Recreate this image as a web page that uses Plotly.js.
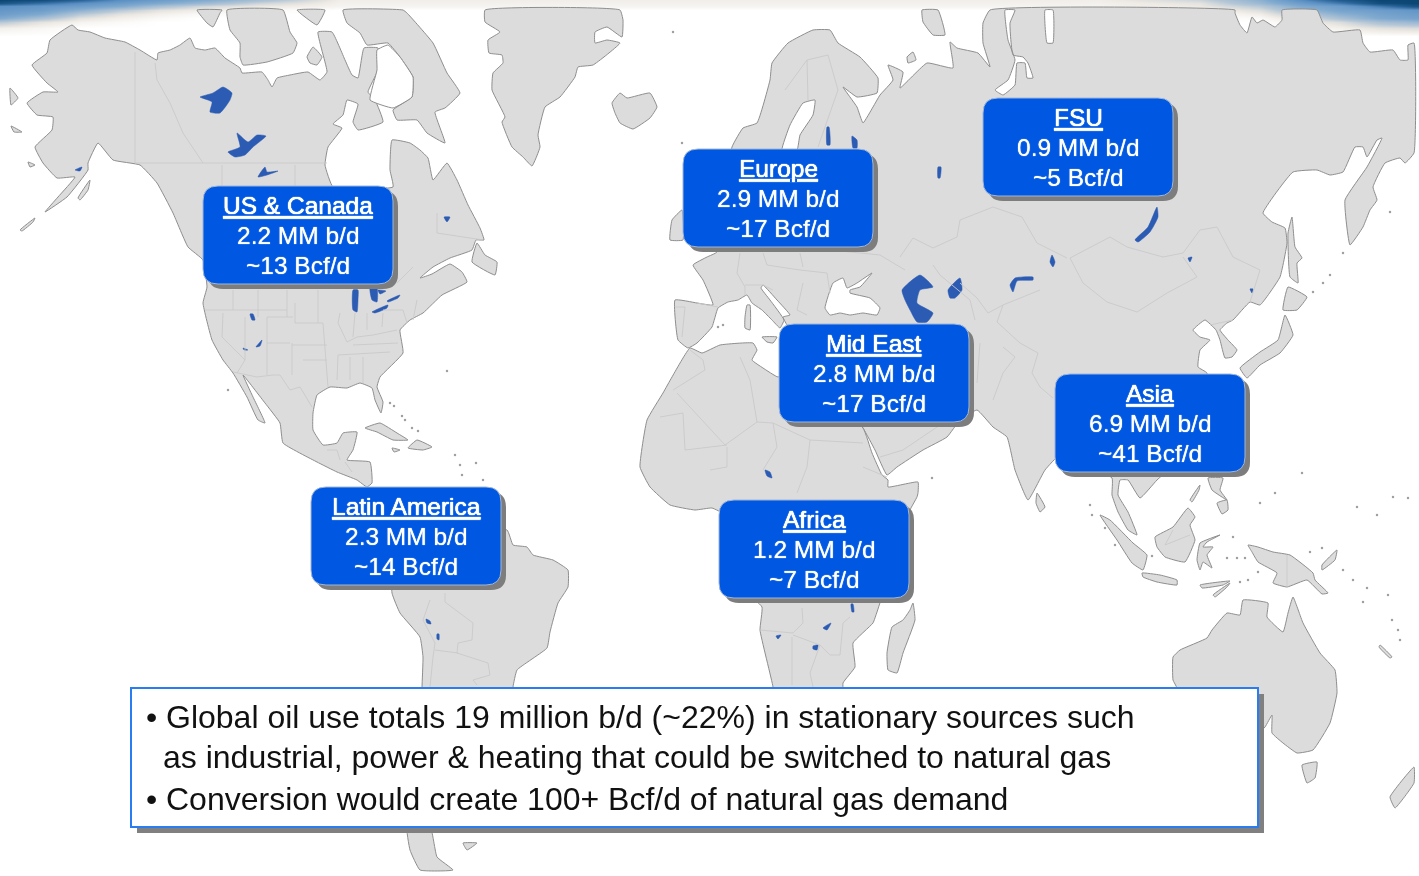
<!DOCTYPE html>
<html><head><meta charset="utf-8">
<script src="https://cdn.plot.ly/plotly-3.0.1.min.js"></script>
<style>html,body{margin:0;padding:0;background:#fff}#chart{width:1419px;height:876px;filter:blur(0.45px)}</style>
</head><body><div id="chart"></div>
<script>
// ---------- values ----------
const regionNames = ["US & Canada","Europe","FSU","Mid East","Asia","Africa","Latin America"];
const oilUseMMbd  = ["2.2","2.9","0.9","2.8","6.9","1.2","2.3"];
const gasBcfd     = ["13","17","5","17","41","7","14"];
const noteLines = ["Global oil use totals 19 million b/d (~22%) in stationary sources such",
                   "as industrial, power & heating that could be switched to natural gas",
                   "Conversion would create 100+ Bcf/d of natural gas demand"];
// ---------- map outlines (traced, in picture units) ----------
const northAmerica=[[72,25],[78,30],[90,32],[105,38],[125,42],[140,50],[157,60],[158,53],[170,50],[180,45],[190,38],[195,48],[205,50],[215,48],[225,58],[240,68],[242,73],[262,72],[268,80],[272,87],[277,78],[290,75],[308,72],[320,80],[327,72],[318,32],[332,32],[345,60],[352,75],[358,78],[364,48],[378,48],[378,70],[368,92],[375,100],[383,122],[358,130],[353,122],[358,104],[347,100],[343,115],[333,124],[342,128],[328,147],[325,165],[333,187],[393,187],[390,170],[392,140],[410,143],[420,150],[428,158],[433,180],[447,163],[457,180],[468,205],[480,228],[484,240],[476,240],[472,250],[450,258],[433,267],[420,278],[432,274],[450,264],[462,272],[467,282],[442,295],[423,313],[410,320],[400,330],[403,353],[380,377],[377,387],[383,402],[381,413],[375,400],[372,388],[360,383],[347,388],[330,387],[317,395],[313,413],[313,430],[323,445],[337,443],[343,433],[357,432],[353,450],[347,460],[370,462],[372,483],[367,487],[357,480],[337,472],[317,462],[283,443],[280,423],[265,403],[243,375],[253,397],[265,423],[258,420],[247,397],[233,373],[223,360],[212,340],[203,303],[207,287],[203,260],[188,247],[173,213],[157,183],[140,165],[113,160],[98,143],[88,163],[88,170],[67,197],[45,212],[58,197],[75,177],[57,178],[43,163],[35,147],[52,130],[53,117],[37,115],[27,103],[43,92],[58,92],[47,83],[32,65],[47,53],[50,40]];
const baffin=[[343,10],[347,23],[360,33],[367,45],[388,43],[400,57],[413,77],[412,97],[393,110],[397,120],[417,120],[427,133],[445,143],[435,112],[445,108],[460,93],[447,73],[433,43],[407,13],[403,10]];
const banksIsland=[[197,10],[207,23],[213,27],[220,13],[222,10]];
const victoriaIsland=[[227,10],[230,30],[240,43],[240,57],[243,65],[267,62],[293,53],[297,43],[290,32],[283,10]];
const somersetIsland=[[297,10],[317,25],[325,10]];
const princeWales=[[307,57],[313,47],[322,57],[317,65],[310,63]];
const newfoundland=[[477,243],[472,262],[495,275],[497,262],[485,255]];
const greenland=[[485,10],[485,22],[500,32],[488,40],[489,53],[502,55],[503,63],[493,73],[492,90],[505,117],[502,122],[512,147],[523,157],[532,166],[540,147],[538,135],[545,107],[560,97],[575,77],[578,67],[593,65],[620,43],[607,40],[595,43],[595,32],[607,27],[622,37],[623,20],[620,10]];
const iceland=[[612,103],[620,93],[627,98],[650,93],[657,107],[650,118],[633,129],[620,123],[615,113]];
const eurasia=[[717,252],[732,147],[743,128],[757,123],[770,80],[772,63],[788,43],[813,30],[830,30],[838,43],[860,57],[878,78],[877,93],[857,97],[843,87],[857,107],[863,123],[873,107],[880,95],[893,80],[888,65],[903,72],[900,88],[927,63],[953,68],[950,42],[957,48],[978,53],[990,67],[983,43],[983,23],[990,10],[1235,10],[1235,13],[1240,25],[1247,33],[1252,17],[1257,23],[1263,20],[1275,27],[1282,20],[1282,10],[1317,10],[1323,23],[1333,32],[1360,30],[1363,43],[1370,52],[1393,50],[1400,60],[1408,60],[1408,45],[1414,43],[1414,153],[1405,163],[1400,158],[1385,163],[1373,187],[1377,200],[1370,210],[1363,227],[1350,245],[1345,200],[1367,167],[1382,138],[1377,140],[1367,157],[1363,147],[1355,147],[1343,172],[1330,175],[1317,170],[1293,172],[1263,213],[1272,222],[1285,228],[1287,243],[1280,277],[1260,305],[1250,302],[1233,320],[1227,323],[1220,330],[1228,340],[1237,350],[1232,357],[1225,358],[1220,340],[1216,330],[1205,320],[1193,330],[1200,337],[1210,340],[1200,350],[1198,367],[1207,373],[1200,440],[1157,480],[1140,498],[1128,480],[1120,480],[1118,495],[1128,512],[1137,535],[1128,530],[1118,512],[1112,495],[1112,478],[1060,455],[1045,470],[1028,500],[1015,470],[1007,437],[993,427],[977,410],[960,420],[947,437],[923,450],[897,467],[887,475],[875,450],[863,428],[787,325],[783,317],[790,315],[777,300],[763,285],[761,288],[770,300],[784,320],[780,328],[772,320],[762,310],[752,303],[747,295],[738,300],[728,302],[718,308],[712,327],[697,343],[688,348],[678,340],[675,300],[697,303],[713,305],[703,280],[693,265],[707,257]];
const africa=[[690,348],[702,353],[720,345],[753,343],[757,350],[752,360],[763,368],[778,377],[790,370],[863,428],[872,453],[882,475],[888,480],[888,487],[918,482],[918,493],[917,497],[910,510],[877,612],[873,623],[853,643],[855,667],[843,683],[843,700],[773,700],[773,687],[760,630],[762,607],[745,590],[725,515],[712,508],[695,510],[670,505],[650,487],[640,467],[647,420],[663,393],[672,377]];
const madagascar=[[913,603],[915,620],[903,653],[897,673],[888,670],[887,653],[892,627],[903,620],[910,610]];
const southAmerica=[[392,593],[395,530],[507,530],[513,545],[527,547],[533,555],[553,560],[568,570],[568,587],[558,603],[550,632],[547,648],[517,670],[513,687],[513,700],[422,700],[422,687],[423,657],[420,637],[400,613]];
const tierraFuego=[[407,826],[410,850],[420,870],[453,870],[437,857],[430,826]];
const falklands=[[463,843],[477,843],[467,850]];
const australia=[[1173,657],[1173,680],[1177,688],[1180,720],[1250,740],[1265,727],[1272,715],[1272,733],[1283,743],[1297,753],[1313,750],[1330,723],[1337,693],[1335,670],[1320,653],[1303,623],[1293,597],[1288,613],[1283,632],[1267,617],[1268,603],[1243,600],[1240,615],[1227,613],[1212,630],[1207,638],[1180,650]];
const tasmania=[[1302,765],[1307,783],[1315,778],[1317,762]];
const newZealand=[[1390,797],[1395,808],[1414,783],[1414,767]];
const newGuinea=[[1273,552],[1290,555],[1313,573],[1315,580],[1328,593],[1322,594],[1307,580],[1287,587],[1273,583],[1277,573],[1258,562],[1252,552],[1248,545],[1258,547]];
const newBritain=[[1322,570],[1335,560],[1337,550],[1322,565]];
const sumatra=[[1100,515],[1110,520],[1133,543],[1147,555],[1143,570],[1132,563],[1117,540]];
const java=[[1142,573],[1160,575],[1177,580],[1177,585],[1157,582],[1143,577]];
const sunda=[[1200,585],[1230,581],[1223,585],[1202,588]];
const timor=[[1213,595],[1230,583],[1227,587],[1215,597]];
const borneo=[[1155,537],[1173,527],[1188,508],[1195,517],[1190,525],[1195,540],[1185,562],[1165,557],[1157,547]];
const sulawesi=[[1197,560],[1200,543],[1220,535],[1207,542],[1203,547],[1213,547],[1207,555],[1212,568],[1203,562],[1200,570]];
const luzon=[[1208,478],[1223,478],[1220,490],[1227,500],[1212,490]];
const mindanao=[[1217,503],[1227,500],[1228,510],[1222,514]];
const palawan=[[1190,500],[1200,485],[1199,490],[1192,502]];
const sriLanka=[[1037,493],[1045,507],[1040,512],[1036,503]];
const honshu=[[1285,315],[1293,335],[1280,353],[1260,365],[1247,378],[1240,368],[1260,352],[1278,340]];
const hokkaido=[[1288,287],[1307,297],[1297,310],[1283,310]];
const sakhalin=[[1292,217],[1295,247],[1302,258],[1297,263],[1298,283],[1290,277],[1288,233]];
const cuba=[[365,428],[380,423],[397,433],[408,440],[393,440],[377,432]];
const hispaniola=[[408,448],[417,440],[432,447],[423,450]];
const jamaica=[[392,448],[400,450],[394,452]];
const newCaledonia=[[1380,645],[1392,657],[1390,658],[1379,647]];
const britain=[[670,240],[672,220],[682,210],[683,240]];
const corsica=[[747,305],[750,305],[750,330],[745,328],[745,317]];
const sicily=[[762,337],[777,337],[773,343],[767,342]];
const novayaZemlya=[[922,10],[938,10],[945,35],[933,35],[923,22]];
const kolguev=[[907,57],[913,52],[916,60],[908,63]];
const alaskaIslandA=[[10,88],[18,98],[11,105]];
const alaskaIslandB=[[11,126],[22,132],[14,132]];
const kodiak=[[28,162],[35,165],[30,167]];
const aleutian=[[20,230],[35,218],[33,222],[22,231]];
const alexander=[[78,198],[90,180],[88,190],[80,200]];
const landPieces=[northAmerica,baffin,banksIsland,victoriaIsland,somersetIsland,princeWales,newfoundland,greenland,iceland,eurasia,africa,madagascar,southAmerica,tierraFuego,falklands,australia,tasmania,newZealand,newGuinea,newBritain,sumatra,java,sunda,timor,borneo,sulawesi,luzon,mindanao,palawan,sriLanka,honshu,hokkaido,sakhalin,cuba,hispaniola,jamaica,newCaledonia,britain,corsica,sicily,novayaZemlya,kolguev,alaskaIslandA,alaskaIslandB,kodiak,aleutian,alexander];
// tiny islands
const specksX=[390,394,402,405,412,418,455,460,462,447,228,1152,1393,1408,1302,1260,1275,1357,1377,1310,1322,1388,1363,1398,1400,1240,1248,1258,1227,1237,1245,1233,1343,1353,1367,1392,1343,1330,1323,1313,1390,718,723,932,682,673,1090,1092,1105,1115,476,483];
const specksY=[403,406,416,420,428,431,455,465,475,371,390,556,497,498,473,503,493,507,515,552,548,595,602,630,640,582,580,572,558,558,558,537,570,580,588,620,253,275,283,292,212,327,325,478,143,32,505,515,528,545,463,480];
// inland water shown white
const foxeBasin=[[377,50],[388,45],[400,57],[413,77],[412,97],[393,108],[370,100],[377,70]];
const gulfBothnia=[[782,150],[790,125],[803,103],[815,100],[813,115],[800,135],[797,150]];
const blackSea=[[825,308],[833,283],[843,278],[847,288],[857,283],[872,273],[860,287],[850,290],[850,293],[870,298],[880,308],[877,315],[863,313],[850,315],[840,313],[830,315]];
const obGulf=[[1005,10],[1008,40],[1015,60],[1008,80],[995,90],[1003,95],[1015,85],[1017,63],[1025,63],[1027,78],[1033,78],[1028,63],[1023,57],[1013,55],[1010,23],[1015,10]];
const yeniseiBay=[[1045,10],[1053,10],[1053,43],[1047,43]];
const waterPieces=[foxeBasin,gulfBothnia,blackSea,obGulf,yeniseiBay];
// lakes
const greatBear=[[200,97],[213,93],[223,87],[232,93],[230,100],[220,113],[210,112],[212,102],[202,98]];
const greatSlave=[[228,152],[240,147],[237,133],[248,142],[257,135],[266,136],[253,147],[245,155],[235,157]];
const athabasca=[[258,177],[265,167],[267,172],[278,171],[267,175]];
const michigan=[[353,290],[358,290],[358,300],[357,312],[353,310]];
const huron=[[370,288],[377,288],[377,302],[372,300]];
const georgian=[[378,290],[386,291],[380,294]];
const erie=[[372,312],[388,305],[387,308],[375,313]];
const ontario=[[387,301],[400,295],[398,298],[388,302]];
const caspian=[[902,290],[920,275],[933,287],[920,290],[917,303],[933,313],[927,322],[917,322],[910,310],[905,300]];
const aral=[[948,290],[960,278],[962,290],[955,298],[950,298]];
const balkhash=[[1010,285],[1015,278],[1033,277],[1033,280],[1017,281],[1013,292]];
const baikal=[[1157,207],[1158,217],[1150,232],[1138,242],[1135,240],[1148,227]];
const ladoga=[[827,127],[829,127],[830,145],[827,145]];
const onega=[[852,136],[857,140],[857,148],[853,148]];
const rybinsk=[[938,167],[941,167],[940,178],[938,178]];
const chadLake=[[765,470],[770,472],[772,478],[767,476]];
const titicaca=[[426,619],[430,621],[431,624],[427,623]];
const poopo=[[437,634],[439,634],[439,640],[437,639]];
const okavango=[[776,636],[781,635],[778,639]];
const bangweulu=[[813,646],[818,645],[817,650],[813,649]];
const malawi=[[851,604],[853,604],[854,612],[852,612]];
const mweru=[[823,628],[831,623],[827,630]];
const greatSalt=[[250,314],[253,314],[255,320],[252,320]];
const powell=[[256,347],[262,340],[260,346]];
const mead=[[243,348],[248,350],[244,350]];
const alaskaLake=[[75,170],[82,167],[80,171]];
const qinghai=[[1188,258],[1192,257],[1190,262]];
const hanka=[[1250,289],[1253,289],[1252,293]];
const issyk=[[1052,255],[1055,262],[1053,267],[1050,262]];
const mistassini=[[444,217],[450,217],[447,222]];
const lakePieces=[greatBear,greatSlave,athabasca,michigan,huron,georgian,erie,ontario,caspian,aral,balkhash,baikal,ladoga,onega,rybinsk,chadLake,titicaca,poopo,okavango,bangweulu,malawi,mweru,greatSalt,powell,mead,alaskaLake,qinghai,hanka,issyk,mistassini];
// borders
const borderLines=[
[[135,52],[135,163]],[[155,63],[157,80],[170,103],[183,133],[203,163]],[[135,163],[327,163]],[[222,165],[222,187]],[[295,165],[295,187]],
[[437,213],[437,233],[483,240]],[[413,267],[397,283]],
[[233,372],[257,377],[273,375],[280,375],[290,390],[300,387],[312,407]],[[205,310],[287,310]],[[267,317],[293,317]],[[267,343],[290,343]],[[295,323],[323,323]],[[292,345],[327,345]],[[303,360],[327,360]],
[[233,290],[233,310]],[[258,290],[258,317]],[[287,290],[287,317]],[[267,317],[267,375]],[[295,303],[295,323]],[[292,343],[292,375]],[[318,290],[318,323]],[[323,323],[325,347],[327,367],[328,387]],[[340,313],[338,323],[347,342]],[[338,355],[337,380]],[[350,357],[350,380]],[[363,357],[363,383]],[[347,342],[357,337],[373,335],[397,330]],[[353,345],[398,343]],[[338,355],[390,352]],[[383,310],[403,310],[407,323]],[[355,313],[353,337]],[[367,313],[367,330]],[[383,313],[382,327]],[[223,313],[222,337],[245,360]],[[245,317],[245,360],[237,373]],[[417,300],[413,320]],[[327,450],[337,450],[340,460]],[[345,462],[352,472]],
[[697,303],[718,307]],[[675,307],[685,307],[682,337]],[[740,253],[737,273],[745,287],[745,295]],[[745,285],[763,285],[773,290]],[[763,253],[767,265],[780,267],[800,270]],[[800,253],[803,267]],[[800,270],[827,273],[830,293]],[[803,283],[797,310],[807,315]],[[785,90],[807,60],[828,55]],[[807,60],[808,100]],[[828,55],[838,90],[818,147]],[[830,250],[880,255],[905,270]],
[[690,350],[703,360],[705,370],[673,390]],[[677,393],[725,445],[757,422],[750,380],[740,357]],[[660,417],[683,413],[685,450],[727,445]],[[727,447],[727,467],[710,470]],[[757,422],[773,423],[777,447],[763,470]],[[773,423],[810,440],[807,467],[797,493]],[[810,440],[863,443]],[[863,467],[887,477]],[[760,630],[793,633],[803,623],[802,608]],[[792,637],[792,685]],[[793,635],[820,645],[830,655],[840,655],[843,623],[850,617]],[[820,645],[810,673],[813,687]],[[880,457],[903,450],[940,425]],
[[960,220],[993,207],[1022,217],[1037,243],[1067,258]],[[960,220],[957,237],[933,248],[913,238],[900,257]],[[1070,258],[1110,237],[1127,247],[1163,257],[1183,253],[1200,230],[1217,227],[1233,257],[1260,270],[1250,302]],[[1070,258],[1083,283],[1107,302],[1137,312],[1167,293],[1197,277],[1183,257]],[[1040,290],[1003,305],[997,322],[1020,343],[1038,353],[1032,373],[1040,387],[1053,398]],[[960,283],[977,298],[988,313],[1003,305]],[[1003,347],[1015,357],[1003,373],[993,400]],[[980,343],[977,383]],[[933,265],[940,275],[970,300],[975,320]],[[1210,325],[1233,320]],
[[445,593],[445,602],[473,623],[472,640],[458,643],[457,653],[488,663],[490,675],[473,680],[477,685]],[[430,600],[423,620],[435,643],[433,657],[430,687]],[[435,650],[458,653]],
[[1287,555],[1287,587]],[[1173,530],[1165,545],[1190,535]]
];
// banner
const bannerX=[0,40,80,120,160,200,260,340,1100,1200,1260,1300,1340,1380,1414];
const bannerY=[0,3,6,10,14,18,22,28,36];
const bannerZ=[
[1,.95,.8,.6,.5,.4,.25,.06,.06,.15,.35,.6,.85,1,1],
[.9,.75,.6,.5,.4,.3,.15,.05,.05,.1,.3,.5,.7,.95,1],
[.6,.55,.5,.4,.25,.15,.08,.04,.04,.08,.2,.4,.5,.7,.9],
[.55,.5,.35,.2,.1,.06,.02,0,0,.02,.12,.3,.45,.5,.55],
[.5,.4,.2,.1,.05,.02,0,0,0,0,.06,.2,.35,.45,.5],
[.4,.25,.1,.05,.02,0,0,0,0,0,.02,.1,.25,.4,.45],
[.2,.1,.04,.02,0,0,0,0,0,0,0,.05,.12,.25,.3],
[.05,.03,0,0,0,0,0,0,0,0,0,.02,.05,.1,.12],
[0,0,0,0,0,0,0,0,0,0,0,0,0,0,0]];
// ---------- layout constants ----------
const boxLeft=[203,683,983,779,1055,719,311], boxTop=[186,149,98,324,374,500,487];
const boxW=190, boxH=98, boxR=15;
const LAND='#dcdcdc', COAST='#8e8e8e', LAKE='#2b5bb3', BORDER='#cacaca', BOX='#0058e2';
function poly(p,fill,line,w,smooth){return {type:'scatter',mode:'lines',x:p.map(q=>q[0]).concat([p[0][0]]),y:p.map(q=>q[1]).concat([p[0][1]]),fill:'toself',fillcolor:fill,line:{color:line,width:w,shape:'spline',smoothing:smooth},hoverinfo:'skip',showlegend:false};}
function rr(x,y,w,h,r){return `M${x+r},${y} L${x+w-r},${y} Q${x+w},${y} ${x+w},${y+r} L${x+w},${y+h-r} Q${x+w},${y+h} ${x+w-r},${y+h} L${x+r},${y+h} Q${x},${y+h} ${x},${y+h-r} L${x},${y+r} Q${x},${y} ${x+r},${y} Z`;}
const traces=[{type:'heatmap',x:bannerX,y:bannerY,z:bannerZ,zsmooth:'best',zmin:0,zmax:1,showscale:false,hoverinfo:'skip',
 colorscale:[[0,'#ffffff'],[0.08,'#ece8e2'],[0.2,'#b8c8d6'],[0.4,'#7fa9cf'],[0.6,'#5b90c4'],[0.8,'#2a6498'],[1,'#0c4674']]}];
landPieces.forEach(p=>traces.push(poly(p,LAND,COAST,1,0.35)));
traces.push({type:'scatter',mode:'markers',x:specksX,y:specksY,marker:{size:2.5,color:'#a0a0a0'},hoverinfo:'skip',showlegend:false});
waterPieces.forEach(p=>traces.push(poly(p,'#ffffff',COAST,1,0.35)));
lakePieces.forEach(p=>traces.push(poly(p,LAKE,LAKE,0.5,0.5)));
const bx=[],by=[];borderLines.forEach(s=>{s.forEach(q=>{bx.push(q[0]);by.push(q[1]);});bx.push(null);by.push(null);});
traces.push({type:'scatter',mode:'lines',x:bx,y:by,line:{color:BORDER,width:0.9},hoverinfo:'skip',showlegend:false});
const shapes=[],annotations=[];
regionNames.forEach((n,i)=>{
 const x=boxLeft[i],y=boxTop[i];
 shapes.push({type:'path',path:rr(x+5,y+5,boxW,boxH,boxR),fillcolor:'#7d7d7d',line:{width:0},layer:'above'});
 shapes.push({type:'path',path:rr(x,y,boxW,boxH,boxR),fillcolor:BOX,line:{color:'#9fb6d8',width:1},layer:'above'});
 const lines=['<u>'+n.replace('&','&amp;')+'</u>',oilUseMMbd[i]+' MM b/d','~'+gasBcfd[i]+' Bcf/d'];
 lines.forEach((t,k)=>annotations.push({x:x+boxW/2,y:y+19+30*k,xref:'x',yref:'y',text:t,showarrow:false,xanchor:'center',yanchor:'middle',font:{family:'Liberation Sans, Arial, sans-serif',size:24.5,color:'#ffffff',shadow:'0 0 1px #ffffff'}}));
});
shapes.push({type:'rect',x0:137,y0:694,x1:1264,y1:833,fillcolor:'#808080',line:{width:0},layer:'above'});
shapes.push({type:'rect',x0:131,y0:688,x1:1258,y1:827,fillcolor:'#ffffff',line:{color:'#2a7df0',width:2},layer:'above'});
const noteFont={family:'Liberation Sans, Arial, sans-serif',size:32,color:'#111111'};
[[164,717,0],[161,757,1],[164,799,2]].forEach(a=>annotations.push({x:a[0],y:a[1],xref:'x',yref:'y',text:noteLines[a[2]].replace('&','&amp;'),showarrow:false,xanchor:'left',yanchor:'middle',font:noteFont}));
[717,799].forEach(y=>annotations.push({x:144,y:y,xref:'x',yref:'y',text:'•',showarrow:false,xanchor:'left',yanchor:'middle',font:noteFont}));
Plotly.newPlot('chart',traces,{width:1419,height:876,margin:{l:0,r:0,t:0,b:0},paper_bgcolor:'#ffffff',plot_bgcolor:'#ffffff',showlegend:false,
 xaxis:{range:[0,1419],visible:false,fixedrange:true},yaxis:{range:[876,0],visible:false,fixedrange:true},shapes,annotations},{displayModeBar:false,staticPlot:true});
</script></body></html>
